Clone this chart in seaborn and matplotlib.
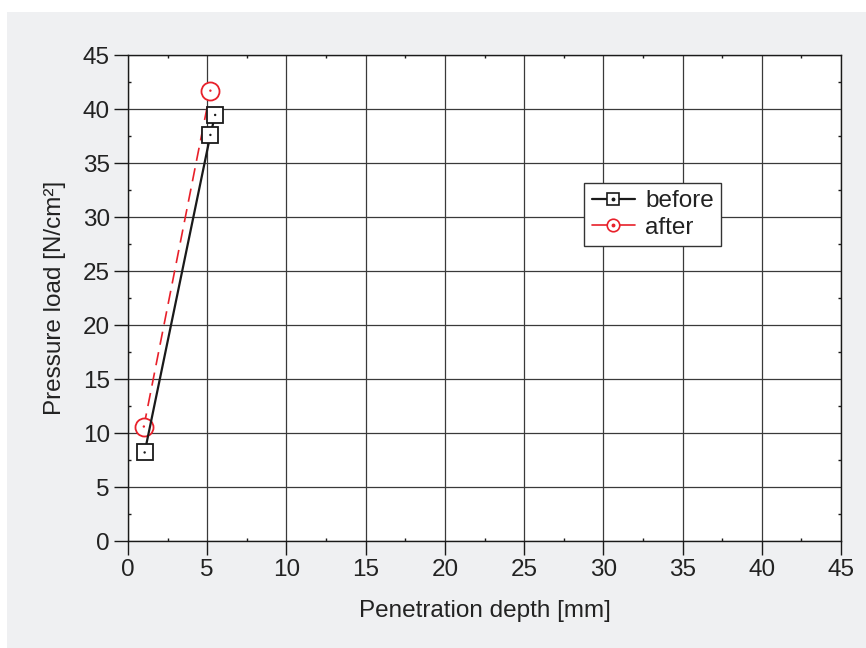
import matplotlib
matplotlib.use("Agg")
import matplotlib.pyplot as plt
import seaborn as sns
import pandas as pd
from matplotlib.patches import Rectangle
from matplotlib.lines import Line2D
from matplotlib.ticker import MultipleLocator

before_x = [1.05, 5.2, 5.5]
before_y = [8.2, 37.6, 39.45]
after_x = [1.0, 5.2]
after_y = [10.6, 41.7]
series_names = ["before", "after"]
ticks = [0, 5, 10, 15, 20, 25, 30, 35, 40, 45]

df = pd.concat([
    pd.DataFrame({"x": before_x, "y": before_y, "series": series_names[0]}),
    pd.DataFrame({"x": after_x, "y": after_y, "series": series_names[1]}),
], ignore_index=True)

sns.set_theme(style="white")
plt.rcParams["font.family"] = ["Liberation Sans", "DejaVu Sans"]

FS = 17.5
fig = plt.figure(figsize=(8.66, 6.48), dpi=100)
fig.patch.set_facecolor("white")
bg = Rectangle((7/866, 0), 1 - 7/866, 1 - 12/648, transform=fig.transFigure,
               facecolor="#eff0f2", edgecolor="none", zorder=-10)
fig.add_artist(bg)
ax = fig.add_axes([128/866, 1 - 541/648, 713/866, 486/648])
ax.set_zorder(1)
ax.set_facecolor("white")

colors = {"before": "#1a1a1a", "after": "#e8202a"}
sub_b = df[df.series == "before"]
sub_a = df[df.series == "after"]
sns.lineplot(data=sub_a, x="x", y="y", sort=False, ax=ax, color=colors["after"],
             lw=1.2, dashes=False, linestyle=(0, (8, 4.5)), marker="o", markersize=13,
             markerfacecolor="white", markeredgecolor=colors["after"], markeredgewidth=1.3,
             zorder=4)
sns.lineplot(data=sub_b, x="x", y="y", sort=False, ax=ax, color=colors["before"],
             lw=1.6, marker="s", markersize=11.5, markerfacecolor="white",
             markeredgecolor=colors["before"], markeredgewidth=1.3, zorder=5)
sns.scatterplot(data=sub_b, x="x", y="y", ax=ax, color=colors["before"], s=3, marker="o",
                edgecolor="none", zorder=6, legend=False)
sns.scatterplot(data=sub_a, x="x", y="y", ax=ax, color=colors["after"], s=3, marker="o",
                edgecolor="none", zorder=6, legend=False)

ax.set_xlim(0, 45)
ax.set_ylim(0, 45)
ax.set_xticks(ticks)
ax.set_yticks(ticks)
ax.xaxis.set_minor_locator(MultipleLocator(2.5))
ax.yaxis.set_minor_locator(MultipleLocator(2.5))
ax.grid(True, which="major", color="#3a3a3a", lw=0.9)
for s in ax.spines.values():
    s.set_visible(True)
    s.set_color("#1a1a1a")
    s.set_linewidth(1.0)
ax.tick_params(axis="both", which="major", direction="out", length=10, width=1,
               color="#1a1a1a", labelsize=FS, labelcolor="#222222", pad=3,
               bottom=True, left=True)
ax.tick_params(axis="both", which="minor", direction="in", length=2, width=1,
               color="#1a1a1a", right=True, top=True, bottom=True, left=True)
ax.set_xlabel("Penetration depth [mm]", fontsize=FS, color="#222222", labelpad=14)
ax.set_ylabel("Pressure load [N/cm²]", fontsize=FS, color="#222222", labelpad=12)

h_before = (Line2D([], [], color=colors["before"], lw=1.6, marker="s", markersize=8,
                   markerfacecolor="white", markeredgecolor=colors["before"], markeredgewidth=1.2),
            Line2D([], [], ls="none", marker="o", markersize=1.8, color=colors["before"]))
h_after = (Line2D([], [], color=colors["after"], lw=1.2, marker="o", markersize=9,
                  markerfacecolor="white", markeredgecolor=colors["after"], markeredgewidth=1.2),
           Line2D([], [], ls="none", marker="o", markersize=1.8, color=colors["after"]))
leg = ax.legend([h_before, h_after], series_names,
                loc="upper left", bbox_to_anchor=(0.64, 0.737), borderaxespad=0,
                fontsize=FS, frameon=True, fancybox=False, framealpha=1,
                edgecolor="#333333", handlelength=1.8, handletextpad=0.4,
                borderpad=0.3, labelspacing=0.2)
leg.get_frame().set_linewidth(1.0)
for t in leg.get_texts():
    t.set_color("#222222")

fig.savefig("out.png", dpi=100, facecolor=fig.get_facecolor())
